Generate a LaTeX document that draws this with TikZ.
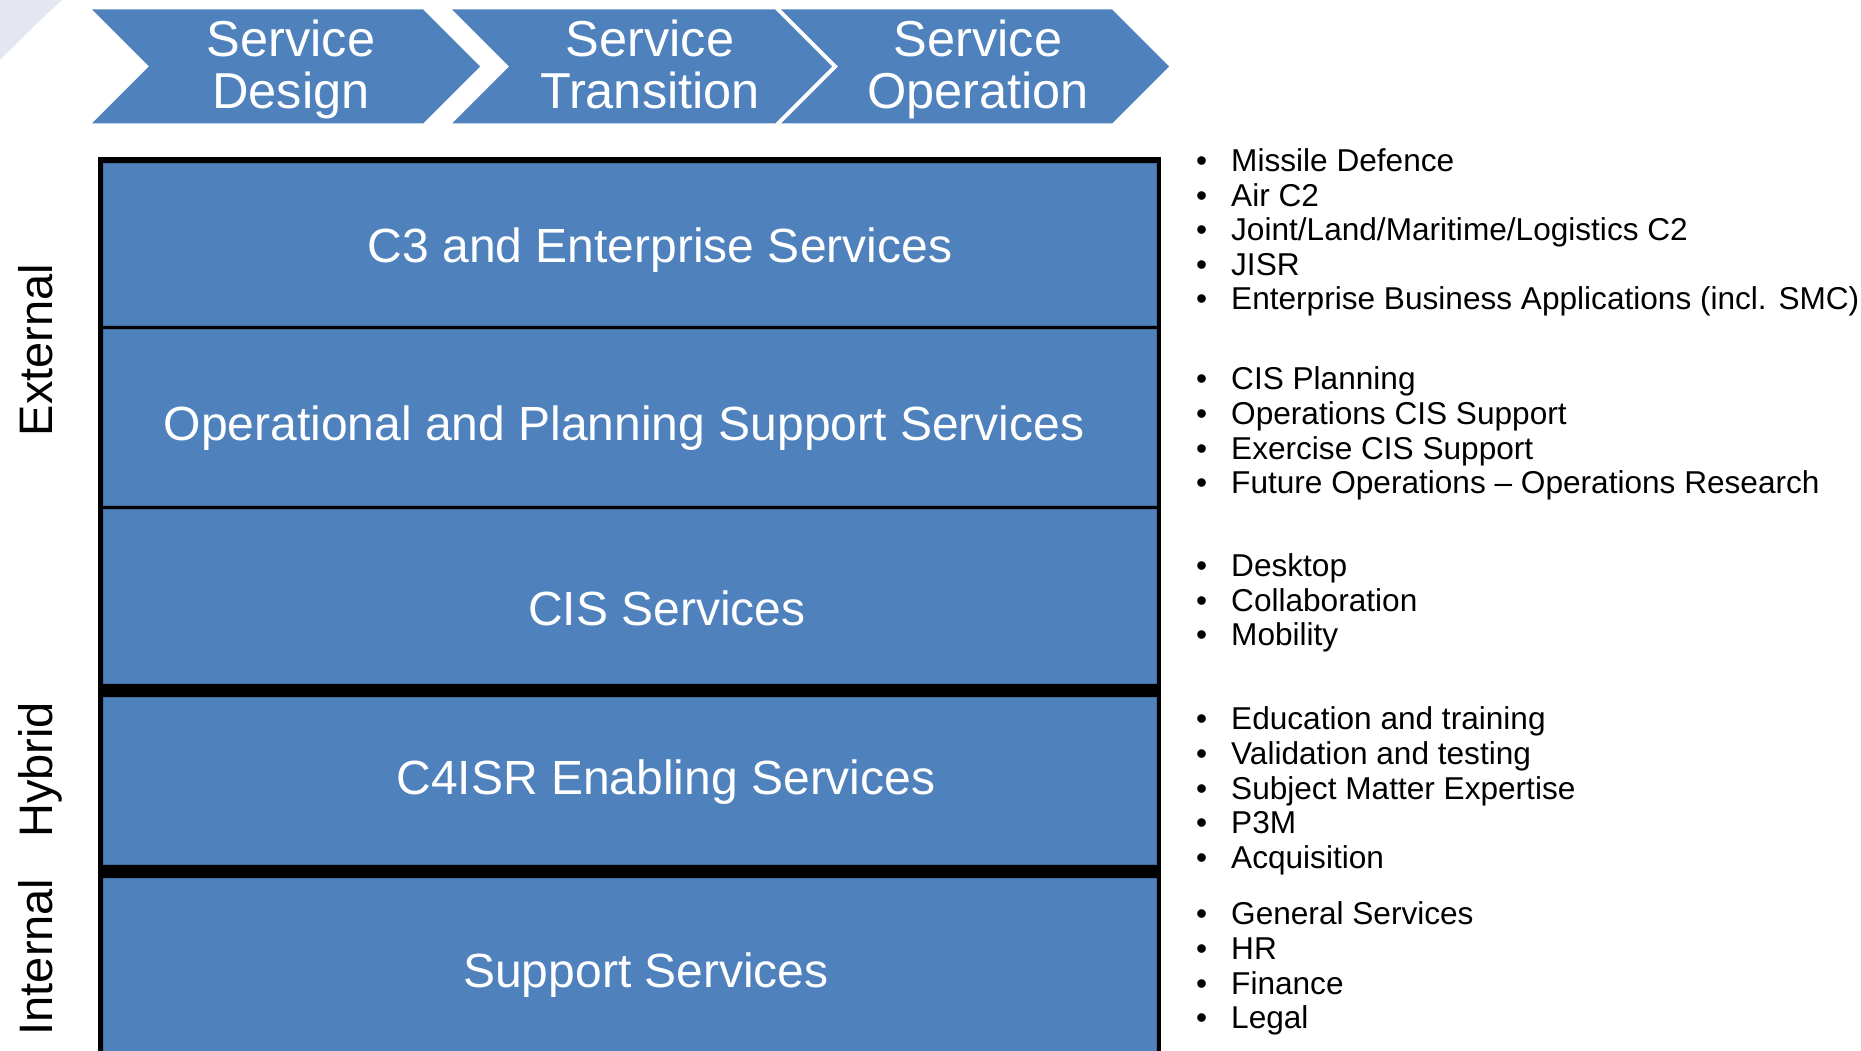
\documentclass[tikz,border=0pt]{standalone}
\usepackage{fontspec}
\setmainfont{Liberation Sans}
\usetikzlibrary{positioning}
\definecolor{svcblue}{RGB}{79,129,189}
\definecolor{lavender}{RGB}{228,230,241}
\tikzset{layer/.style={fill=svcblue,draw=svcblue!85!black,line width=0.8pt},
         chevron/.style={fill=svcblue},
         layertext/.style={anchor=base,text=white,inner sep=0pt,font=\fontsize{48}{52}\selectfont},
         phasetext/.style={align=center,text=white,inner sep=0pt,font=\fontsize{50.5}{52}\selectfont},
         sidetext/.style={rotate=90,anchor=base,inner sep=0pt,font=\fontsize{47}{50}\selectfont},
         item/.style={anchor=base west,inner sep=0pt,font=\fontsize{31.6}{34}\selectfont}}

\begin{document}
\begin{tikzpicture}[x=1pt,y=-1pt]
        \useasboundingbox (0,0) rectangle (1861,1051);
        \fill[lavender] (0,0) -- (62,0) .. controls (40,20) and (20,40) .. (0,60) -- cycle;

        \foreach \px/\qx in {92/423,452/775,781/1112}
            \fill[chevron] (\px,9.5) -- (\qx,9.5) -- (\qx+57,66.5) -- (\qx,123.5) -- (\px,123.5) -- (\px+57,66.5) -- cycle;
        \node[phasetext] (design) at (291,69.5) {Service\\Design};
        \node[phasetext] (transition) at (650,69.5) {Service\\Transition\vphantom{g}};
        \node[phasetext] (operation) at (978,69.5) {Service\\Operation};

        \fill[black] (98,157) rectangle (1161,1051);
        \draw[layer] (103,163) rectangle (1156,325);
        \draw[layer] (103,329) rectangle (1156,505);
        \draw[layer] (103,509) rectangle (1156,683);
        \draw[layer] (103,697) rectangle (1156,864);
        \draw[layer] (103,878) rectangle (1156,1056);

        \node[layertext] (c3) at (660,262) {C3 and Enterprise Services};
        \node[layertext] (ops) at (624,440) {Operational and Planning Support Services};
        \node[layertext] (cis) at (667,625) {CIS Services};
        \node[layertext] (c4isr) at (666,794) {C4ISR Enabling Services};
        \node[layertext] (support) at (646,987) {Support Services};

        \node[sidetext] (external) at (52,350) {External};
        \node[sidetext] (hybrid) at (52,770) {Hybrid};
        \node[sidetext] (internal) at (52,957) {Internal};

        \foreach \txt [count=\i from 0] in {Missile Defence, Air C2, Joint/Land/Maritime/Logistics C2, JISR, Enterprise Business Applications (incl. SMC)}
            \node[item] (c3item\i) at (1196,171.5+34.6*\i) {\makebox[35pt][l]{\textbullet}\txt};
        \foreach \txt [count=\i from 0] in {CIS Planning, Operations CIS Support, Exercise CIS Support, Future Operations -- Operations Research}
            \node[item] (opsitem\i) at (1196,389.8+34.6*\i) {\makebox[35pt][l]{\textbullet}\txt};
        \foreach \txt [count=\i from 0] in {Desktop, Collaboration, Mobility}
            \node[item] (cisitem\i) at (1196,576.5+34.6*\i) {\makebox[35pt][l]{\textbullet}\txt};
        \foreach \txt [count=\i from 0] in {Education and training, Validation and testing, Subject Matter Expertise, P3M, Acquisition}
            \node[item] (c4item\i) at (1196,729.8+34.6*\i) {\makebox[35pt][l]{\textbullet}\txt};
        \foreach \txt [count=\i from 0] in {General Services, HR, Finance, Legal}
            \node[item] (supitem\i) at (1196,924.8+34.6*\i) {\makebox[35pt][l]{\textbullet}\txt};
    \end{tikzpicture}
\end{document}
